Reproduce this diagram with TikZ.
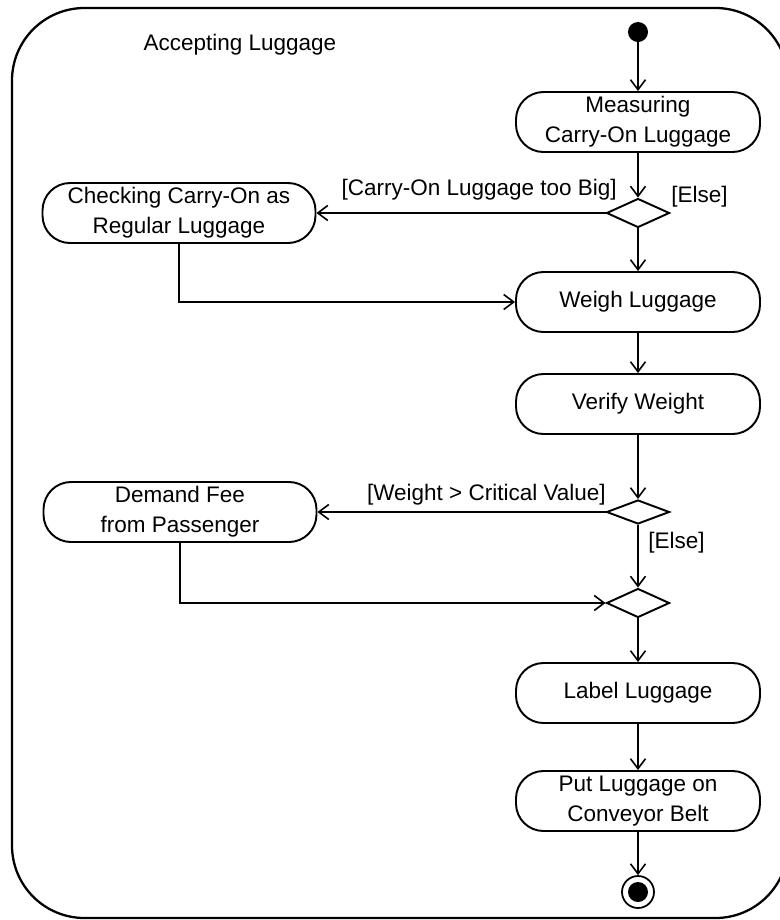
\documentclass[tikz,border=0pt]{standalone}
\usepackage{fontspec}
\setmainfont{Liberation Sans}
\usetikzlibrary{shapes.geometric,arrows.meta}

\begin{document}
\begin{tikzpicture}
	[
		x = 0.2mm, y = -0.2mm,
		font = \fontsize{12.8}{17}\selectfont,
		action/.style = {shape=rectangle, draw, line width=1.1pt, rounded corners=0.55cm, minimum width=4.88cm, minimum height=1.2cm, align=center, inner sep=1pt},
		wideaction/.style = {action, minimum width=5.46cm},
		decision/.style = {shape=diamond, draw, line width=1.1pt, inner sep=0pt, minimum width=1.26cm, minimum height=0.58cm},
		flow/.style = {-{Straight Barb[length=2mm, width=3mm]}, line width=0.9pt},
		guard/.style = {inner sep=0pt}
	]
	
	\useasboundingbox (0, 0) rectangle (780, 920);
	
	% frame of the activity
	\draw [line width=1.3pt, rounded corners=1.45cm] (12, 8) rectangle (788, 918);
	\node (title) at (240, 45) {Accepting Luggage};
	
	\def\x{638}
	
	\node [circle, fill, minimum size=0.4cm, inner sep=0pt] (start) at (\x, 32) {};
	\node [action] (measure) at (\x, 122) {Measuring\\Carry-On Luggage};
	\node [decision] (big) at (\x, 213) {};
	\node [wideaction] (check) at (179, 213) {Checking Carry-On as\\Regular Luggage};
	\node [action] (weigh) at (\x, 302) {Weigh Luggage};
	\node [action] (verify) at (\x, 404) {Verify Weight};
	\node [decision, minimum height=0.48cm] (heavy) at (\x, 512) {};
	\node [wideaction] (fee) at (180, 512) {Demand Fee\\from Passenger};
	\node [decision] (merge) at (\x, 603) {};
	\node [action] (label) at (\x, 693) {Label Luggage};
	\node [action] (belt) at (\x, 801) {Put Luggage on\\Conveyor Belt};
	\node [circle, draw, line width=1pt, minimum size=0.64cm, inner sep=0pt] (stop) at (\x, 892) {};
	\node [circle, fill, minimum size=0.4cm, inner sep=0pt] (stopdot) at (stop) {};
	
	% guards
	\node [guard, anchor=east] (gbig) at (617, 190) {[Carry-On Luggage too Big]};
	\node [guard, anchor=west] (gsmall) at (671, 197) {[Else]};
	\node [guard, anchor=east] (gheavy) at (606, 495) {[Weight > Critical Value]};
	\node [guard, anchor=west] (glight) at (648, 543) {[Else]};
	
	\draw [flow] (start) -- (measure);
	\draw [flow] (measure) -- (big);
	\draw [flow] (big) -- (check);
	\draw [flow] (big) -- (weigh);
	\draw [flow] (check) |- (weigh);
	\draw [flow] (weigh) -- (verify);
	\draw [flow] (verify) -- (heavy);
	\draw [flow] (heavy) -- (fee);
	\draw [flow] (heavy) -- (merge);
	\draw [flow] (fee) |- (merge);
	\draw [flow] (merge) -- (label);
	\draw [flow] (label) -- (belt);
	\draw [flow] (belt) -- (stop);
\end{tikzpicture}
\end{document}
